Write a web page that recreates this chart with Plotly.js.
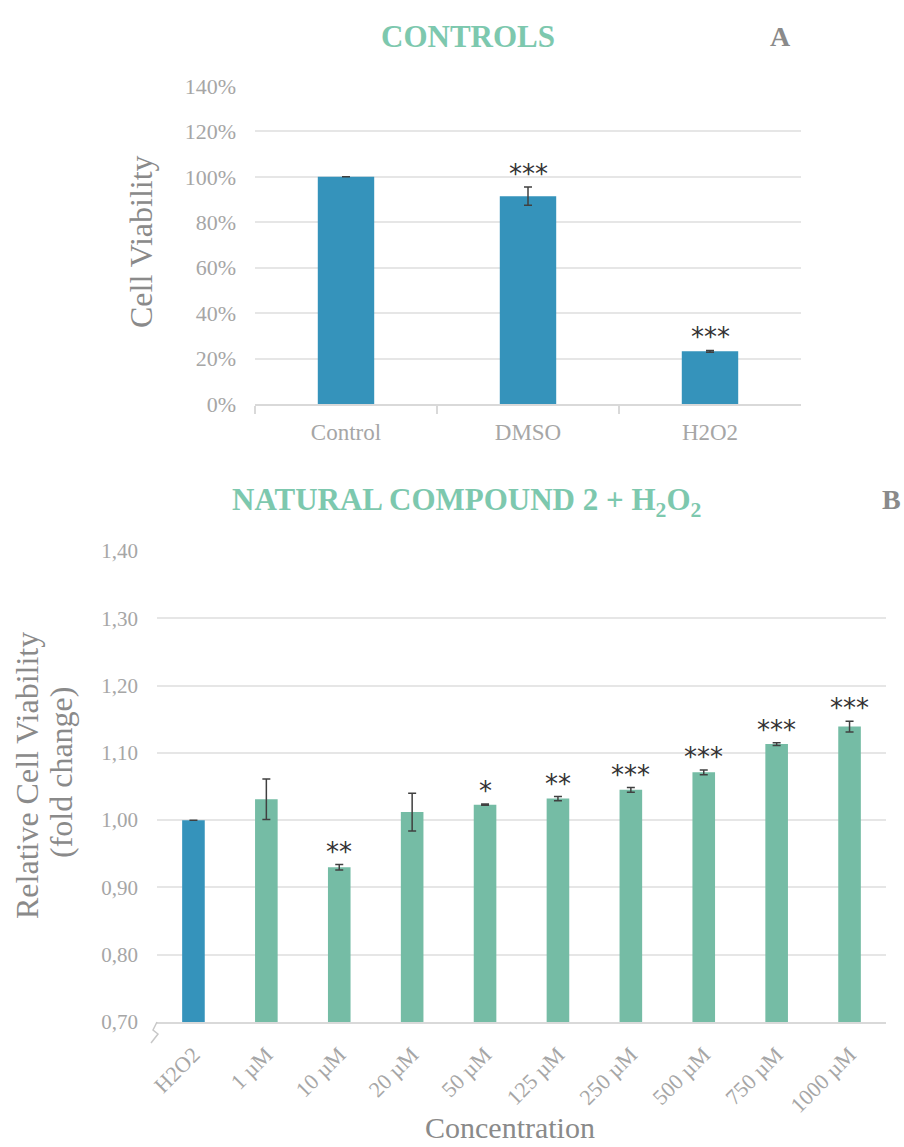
<!DOCTYPE html>
<html>
<head>
<meta charset="utf-8">
<script src="https://cdn.plot.ly/plotly-3.0.1.min.js"></script>
<style>html,body{margin:0;padding:0;background:#fff;}#chart{width:904px;height:1147px;}</style>
</head>
<body>
<div id="chart"></div>
<script>
// ---- Panel A data ----
const catsA = ["Control", "DMSO", "H2O2"];
const valsA = [1.00, 0.915, 0.232];
const errA = [0, 0.04, 0.004];
const starsA = ["", "***", "***"];

// ---- Panel B data ----
const catsB = ["H2O2", "1 µM", "10 µM", "20 µM", "50 µM", "125 µM", "250 µM", "500 µM", "750 µM", "1000 µM"];
const valsB = [1.000, 1.031, 0.930, 1.012, 1.023, 1.032, 1.045, 1.071, 1.113, 1.139];
const errB = [0, 0.030, 0.004, 0.028, 0.001, 0.003, 0.0035, 0.0035, 0.002, 0.008];
const starsB = ["", "", "**", "", "*", "**", "***", "***", "***", "***"];
const colorsB = ["#3593bb", "#75bca5", "#75bca5", "#75bca5", "#75bca5", "#75bca5", "#75bca5", "#75bca5", "#75bca5", "#75bca5"];

const W = 904, H = 1147;
const px = v => v / W;
const py = v => 1 - v / H;
const serif = "Liberation Serif";
const tickGrey = "#a6a6a6";
const titleGrey = "#8a8a8a";
const green = "#7dc8ae";

const traceA = {
  type: "bar", x: catsA, y: valsA, xaxis: "x", yaxis: "y",
  marker: {color: "#3593bb"},
  error_y: {type: "data", array: errA, visible: true, color: "#404040", thickness: 1.5, width: 4},
  hoverinfo: "skip"
};
const traceB = {
  type: "bar", x: catsB, y: valsB, xaxis: "x2", yaxis: "y2",
  marker: {color: colorsB},
  error_y: {type: "data", array: errB, visible: true, color: "#404040", thickness: 1.5, width: 4},
  hoverinfo: "skip"
};

const starFont = {family: "DejaVu Sans", size: 26, color: "#333"};
const annotations = [];
catsA.forEach((c, i) => {
  if (starsA[i]) annotations.push({
    xref: "x", yref: "y", x: c, y: valsA[i] + errA[i], text: starsA[i],
    showarrow: false, yanchor: "middle", yshift: 13, font: starFont
  });
});
catsB.forEach((c, i) => {
  if (starsB[i]) annotations.push({
    xref: "x2", yref: "y2", x: c, y: valsB[i] + errB[i], text: starsB[i],
    showarrow: false, yanchor: "middle", yshift: 13, font: starFont
  });
});

// titles and labels
annotations.push(
  {xref: "paper", yref: "paper", x: px(468), y: py(37), text: "CONTROLS", showarrow: false,
   xanchor: "center", yanchor: "middle", font: {family: serif, size: 31, weight: "bold", color: green}},
  {xref: "paper", yref: "paper", x: px(780), y: py(37), text: "A", showarrow: false,
   xanchor: "center", yanchor: "middle", font: {family: serif, size: 28, weight: "bold", color: titleGrey}},
  {xref: "paper", yref: "paper", x: px(466), y: py(502), text: "NATURAL COMPOUND 2 + H<sub>2</sub>O<sub>2</sub>", showarrow: false,
   xanchor: "center", yanchor: "middle", font: {family: serif, size: 31, weight: "bold", color: green}},
  {xref: "paper", yref: "paper", x: px(891), y: py(500), text: "B", showarrow: false,
   xanchor: "center", yanchor: "middle", font: {family: serif, size: 28, weight: "bold", color: titleGrey}},
  {xref: "paper", yref: "paper", x: px(141), y: py(242), text: "Cell Viability", showarrow: false, textangle: -90,
   xanchor: "center", yanchor: "middle", font: {family: serif, size: 32, color: titleGrey}},
  {xref: "paper", yref: "paper", x: px(27), y: py(776), text: "Relative Cell Viability", showarrow: false, textangle: -90,
   xanchor: "center", yanchor: "middle", font: {family: serif, size: 32, color: titleGrey}},
  {xref: "paper", yref: "paper", x: px(61), y: py(772), text: "(fold change)", showarrow: false, textangle: -90,
   xanchor: "center", yanchor: "middle", font: {family: serif, size: 32, color: titleGrey}},
  {xref: "paper", yref: "paper", x: px(510), y: py(1127), text: "Concentration", showarrow: false,
   xanchor: "center", yanchor: "middle", font: {family: serif, size: 30, color: titleGrey}}
);

// axis break symbol on panel B
const shapes = [{
  type: "path", xref: "paper", yref: "paper",
  path: `M ${px(157)} ${py(1022)} L ${px(153)} ${py(1030)} L ${px(158)} ${py(1034)} L ${px(151)} ${py(1043)}`,
  line: {color: "#c8c8c8", width: 1.5}
}];

const layout = {
  width: W, height: H,
  margin: {l: 0, r: 0, t: 0, b: 0},
  paper_bgcolor: "#fff", plot_bgcolor: "#fff",
  showlegend: false,
  separators: ",.",
  bargap: 0.69,
  font: {family: serif},
  xaxis: {
    domain: [px(255), px(801)], anchor: "y",
    showline: true, linecolor: "#d9d9d9", linewidth: 2,
    ticks: "outside", tickson: "boundaries", ticklen: 8, tickcolor: "#d9d9d9", tickwidth: 2,
    ticklabelstandoff: 6,
    tickfont: {family: serif, size: 23, color: tickGrey},
    showgrid: false, zeroline: false, fixedrange: true
  },
  yaxis: {
    domain: [py(404), py(86)], anchor: "x",
    range: [0, 1.4], dtick: 0.2, tickformat: ".0%",
    showgrid: true, gridcolor: "#e6e6e6", gridwidth: 2,
    showline: false, zeroline: false, ticks: "",
    ticklabelstandoff: 18,
    tickfont: {family: serif, size: 22, color: tickGrey}, fixedrange: true
  },
  xaxis2: {
    domain: [px(157), px(886)], anchor: "y2",
    showline: true, linecolor: "#d9d9d9", linewidth: 2,
    ticks: "", tickangle: -45,
    ticklabelstandoff: 9,
    tickfont: {family: serif, size: 22, color: tickGrey},
    showgrid: false, zeroline: false, fixedrange: true
  },
  yaxis2: {
    domain: [py(1022), py(551)], anchor: "x2",
    range: [0.70, 1.40], dtick: 0.1, tickformat: ".2f",
    showgrid: true, gridcolor: "#e6e6e6", gridwidth: 2,
    showline: false, zeroline: false, ticks: "",
    ticklabelstandoff: 18,
    tickfont: {family: serif, size: 21, color: tickGrey}, fixedrange: true
  },
  annotations: annotations,
  shapes: shapes
};

Plotly.newPlot("chart", [traceA, traceB], layout, {displayModeBar: false, staticPlot: true});
</script>
</body>
</html>
